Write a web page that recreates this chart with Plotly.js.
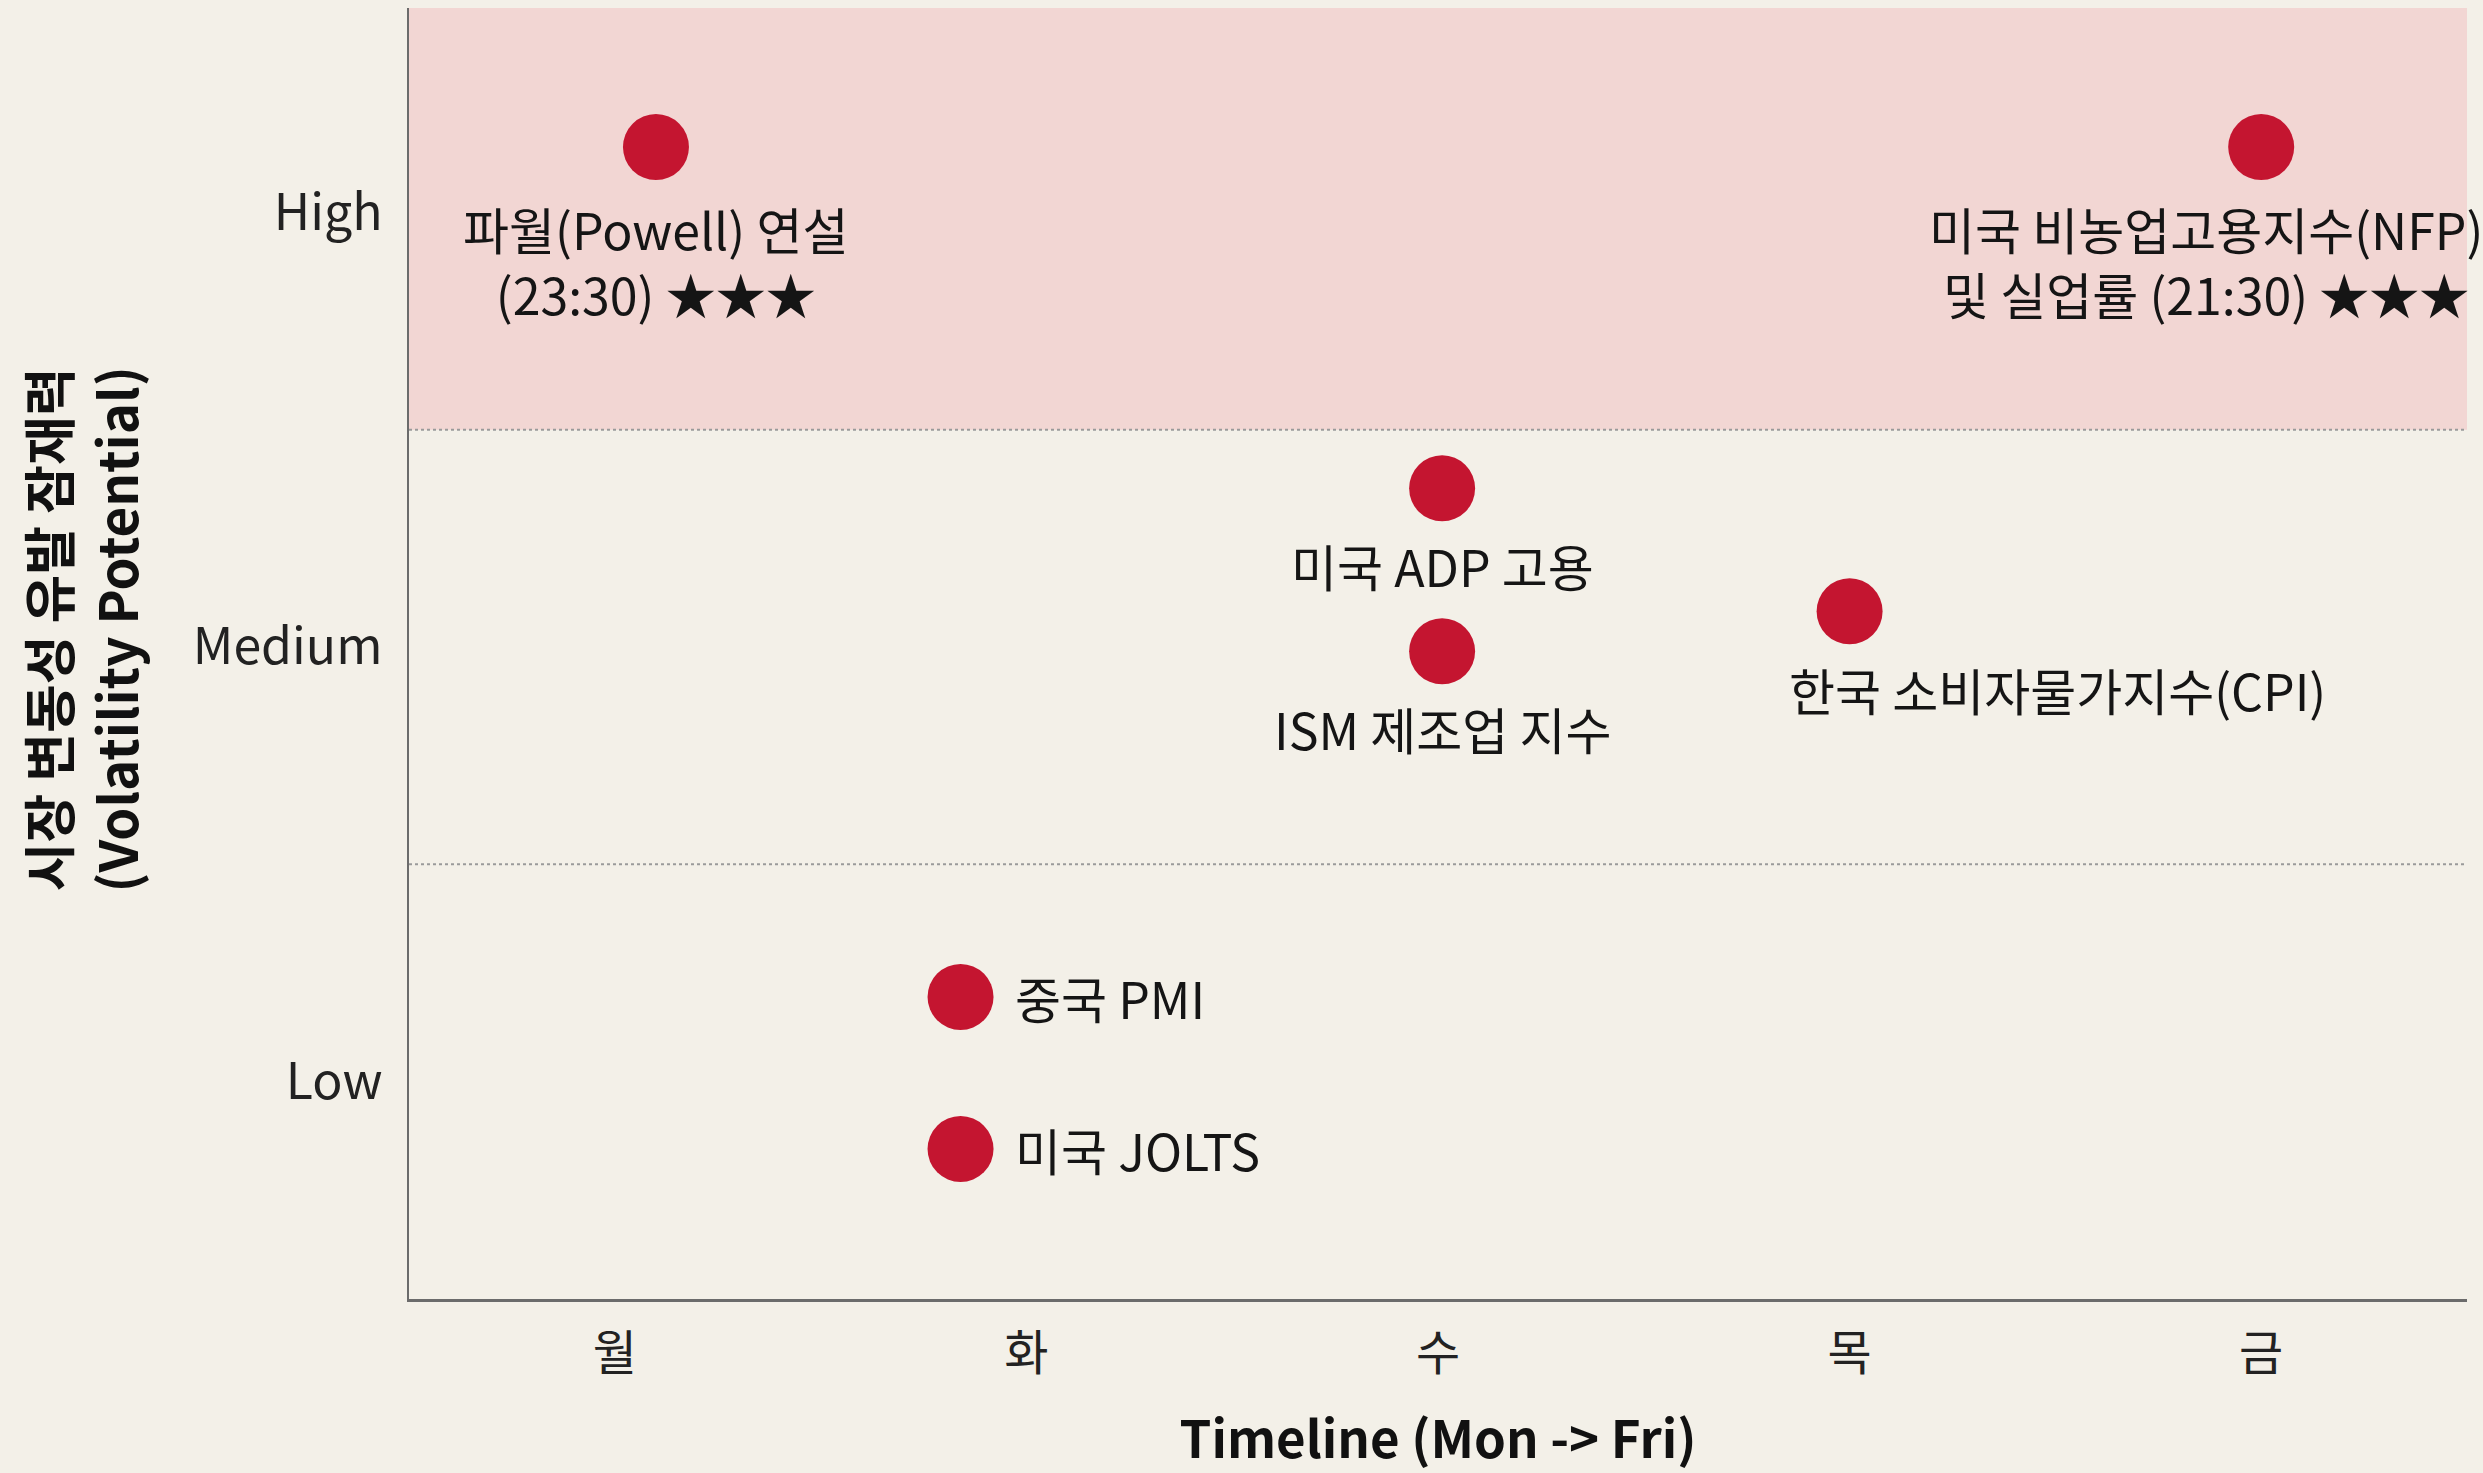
<!DOCTYPE html>
<html>
<head>
<meta charset="utf-8">
<script src="https://cdn.plot.ly/plotly-3.0.1.min.js"></script>
<style>
  html, body { margin: 0; padding: 0; background: #F3F0E8; }
  #chart { width: 2483px; height: 1473px; }
</style>
</head>
<body>
<div id="chart"></div>
<script>
// ---- data ----
const dayLabels = ['월', '화', '수', '목', '금'];
const dayValues = [0, 1, 2, 3, 4];
const levelLabels = ['Low', 'Medium', 'High'];
const levelValues = [0, 1, 2];

const eventNames = [
  '파월(Powell) 연설<br>(23:30) ★★★',
  '중국 PMI',
  '미국 JOLTS',
  '미국 ADP 고용',
  'ISM 제조업 지수',
  '한국 소비자물가지수(CPI)',
  '미국 비농업고용지수(NFP)<br>및 실업률 (21:30) ★★★'
];
const eventDay = [0.1, 0.84, 0.84, 2.01, 2.01, 3.0, 4.0];
const eventVolatility = [2.15, 0.195, -0.155, 1.365, 0.99, 1.082, 2.15];

// ---- label placement (styling) ----
const labelAnchor = ['center', 'left', 'left', 'center', 'center', 'left', 'center'];
const labelXShift = [0, 52, 52, 0, 0, -63, -55];
const labelYShift = [-113, 0, 0, -77, -77, -78, -113];

const FONT = '"Noto Sans CJK KR", "Noto Sans", sans-serif';
const RED = '#C41530';
const PAD = '\u00A0\u00A0\u00A0\u00A0';

const trace = {
  x: eventDay,
  y: eventVolatility,
  mode: 'markers',
  type: 'scatter',
  marker: { size: 66, color: RED, line: { width: 0 } },
  hoverinfo: 'skip',
  cliponaxis: false
};

const annotations = eventNames.map((t, i) => ({
  x: eventDay[i],
  y: eventVolatility[i],
  xref: 'x',
  yref: 'y',
  text: t,
  showarrow: false,
  xanchor: labelAnchor[i],
  yanchor: 'middle',
  align: 'center',
  xshift: labelXShift[i],
  yshift: labelYShift[i],
  font: { family: FONT, size: 50, color: '#151515' }
}));

const layout = {
  width: 2483,
  height: 1473,
  paper_bgcolor: '#F3F0E8',
  plot_bgcolor: '#F3F0E8',
  margin: { l: 409, r: 16, t: 8, b: 174 },
  showlegend: false,
  font: { family: FONT, size: 50, color: '#222' },
  xaxis: {
    range: [-0.5, 4.5],
    tickvals: dayValues,
    ticktext: dayLabels,
    showgrid: false,
    zeroline: false,
    showline: true,
    linecolor: '#6b6b6b',
    linewidth: 3,
    ticks: '',
    ticklabelstandoff: 10,
    tickfont: { family: FONT, size: 48, color: '#222' },
    title: {
      text: '<b>Timeline (Mon -> Fri)</b>',
      font: { family: FONT, size: 51, color: '#111' },
      standoff: 56
    },
    automargin: false
  },
  yaxis: {
    range: [-0.5, 2.47],
    tickvals: levelValues,
    ticktext: levelLabels,
    showgrid: false,
    zeroline: false,
    showline: true,
    linecolor: '#6b6b6b',
    linewidth: 2.5,
    ticks: '',
    ticklabelstandoff: 14,
    tickfont: { family: FONT, size: 50, color: '#222' },
    title: {
      text: '<b>' + PAD + '시장 변동성 유발 잠재력<br>' + PAD + '(Volatility Potential)</b>',
      font: { family: FONT, size: 53, color: '#111' },
      standoff: 37
    },
    automargin: false
  },
  shapes: [
    {
      type: 'rect', xref: 'paper', yref: 'y',
      x0: 0, x1: 1, y0: 1.5, y1: 2.47,
      fillcolor: '#F2D6D3', line: { width: 0 }, layer: 'below'
    },
    {
      type: 'line', xref: 'paper', yref: 'y',
      x0: 0, x1: 1, y0: 1.5, y1: 1.5,
      line: { color: '#9a9a9a', width: 2, dash: 'dot' }, layer: 'below'
    },
    {
      type: 'line', xref: 'paper', yref: 'y',
      x0: 0, x1: 1, y0: 0.5, y1: 0.5,
      line: { color: '#9a9a9a', width: 2, dash: 'dot' }, layer: 'below'
    }
  ],
  annotations: annotations
};

Plotly.newPlot('chart', [trace], layout, { displayModeBar: false, staticPlot: true });
</script>
</body>
</html>
